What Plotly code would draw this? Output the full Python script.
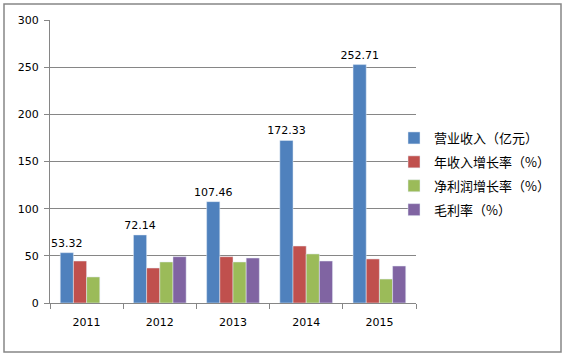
import plotly.graph_objects as go

years = ["2011", "2012", "2013", "2014", "2015"]
revenue = [53.32, 72.14, 107.46, 172.33, 252.71]
rev_growth = [44.5, 37.1, 49.1, 60.4, 46.7]
profit_growth = [27.6, 43.5, 43.5, 52.0, 25.4]
gross_margin = [None, 49.1, 47.7, 44.5, 39.2]

names = ["营业收入（亿元）", "年收入增长率（%）", "净利润增长率（%）", "毛利率（%）"]
colors = ["#4F81BD", "#C0504D", "#9BBB59", "#8064A2"]

num_font = dict(family="DejaVu Sans", size=11, color="#000000")

fig = go.Figure()
series = [revenue, rev_growth, profit_growth, gross_margin]
for i, (nm, vals, col) in enumerate(zip(names, series, colors)):
    kw = {}
    if i == 0:
        kw = dict(text=[f"{v:.2f}" for v in vals], textposition="outside",
                  textfont=num_font, cliponaxis=False, constraintext="none")
    fig.add_trace(go.Bar(x=years, y=vals, name=nm, marker_color=col,
                         legendgroup=f"g{i}", hoverinfo="skip", **kw))

W, H = 565, 360
L, R, T, B = 50, 416, 20, 303
pw, ph = R - L, B - T

def px(x):
    return (x - L) / pw

def py(y):
    return (B - y) / ph

fig.update_layout(
    width=W, height=H,
    margin=dict(l=L, r=W - R, t=T, b=H - B, autoexpand=False),
    paper_bgcolor="white", plot_bgcolor="white",
    barmode="group", bargap=0.28, bargroupgap=0,
    showlegend=True,
    legend=dict(x=px(394), y=py(123), xanchor="left", yanchor="top",
                font=dict(family="Noto Sans CJK SC", size=13, color="#000000"),
                bgcolor="rgba(0,0,0,0)", itemwidth=30, tracegroupgap=4,
                traceorder="grouped"),
    xaxis=dict(type="category", showline=True, linecolor="#868686", linewidth=1,
               ticks="outside", ticklen=5, tickcolor="#868686", tickson="boundaries",
               tickfont=num_font, showgrid=False, ticklabelstandoff=9),
    yaxis=dict(range=[0, 300], dtick=50, showline=True, linecolor="#868686", linewidth=1,
               ticks="outside", ticklen=5, tickcolor="#868686",
               showgrid=True, gridcolor="#868686", gridwidth=1,
               tickfont=num_font, zeroline=False, ticklabelstandoff=3),
    shapes=[dict(type="rect", xref="paper", yref="paper",
                 x0=px(4), x1=px(561), y0=py(352), y1=py(4),
                 line=dict(color="#868686", width=1.5), fillcolor="rgba(0,0,0,0)")],
)

fig.write_html("out.html", config={"displayModeBar": False},
               post_script="document.body.style.margin='0';document.body.style.overflow='hidden';")
